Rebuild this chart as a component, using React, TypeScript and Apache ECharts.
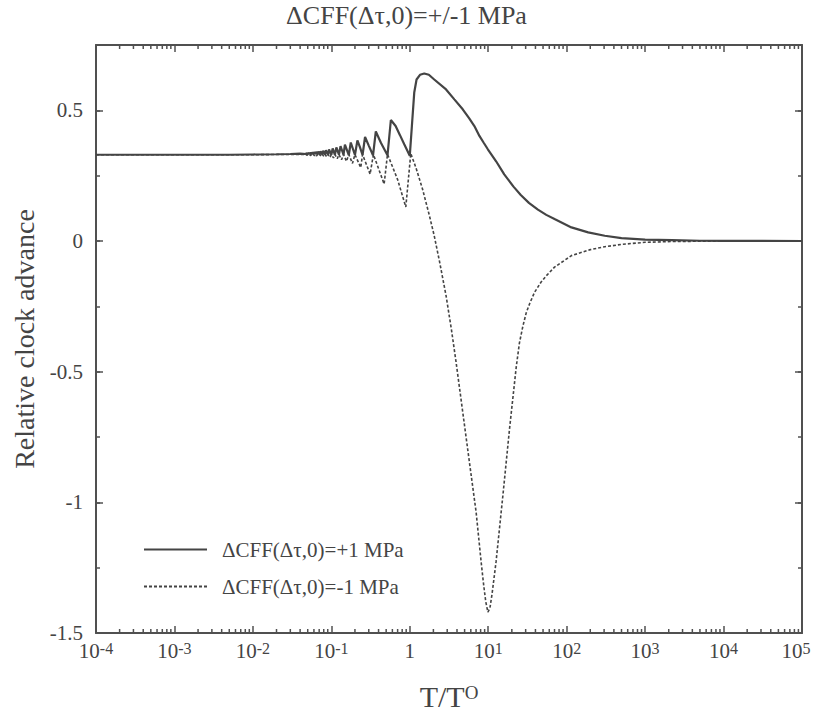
import React, { useEffect, useRef } from 'react';
import * as echarts from 'echarts';

const TITLE = 'ΔCFF(Δτ,0)=+/-1 MPa';
const X_NAME = 'T/T';
const X_NAME_SUP = 'O';
const Y_NAME = 'Relative clock advance';
const SERIES_NAMES = ['ΔCFF(Δτ,0)=+1 MPa', 'ΔCFF(Δτ,0)=-1 MPa'];

const X_MIN = 1e-4;
const X_MAX = 1e5;
const Y_MIN = -1.5;
const Y_MAX = 0.75;
const X_DECADES = [-4, -3, -2, -1, 0, 1, 2, 3, 4, 5];
const Y_TICKS = [-1.5, -1, -0.5, 0, 0.5];

// +1 MPa (solid) : [T/T0, relative clock advance]
const positiveFlat: [number, number][] = [
  [1e-4, 0.33], [1e-3, 0.33], [0.005, 0.33], [0.01, 0.331], [0.02, 0.332], [0.03, 0.333], [0.04, 0.334],
];
const positiveOscillation: [number, number][] = [
  [0.0476, 0.333], [0.0483, 0.336],
  [0.05, 0.333], [0.0508, 0.337],
  [0.0526, 0.333], [0.0535, 0.338],
  [0.0556, 0.333], [0.0566, 0.339],
  [0.0588, 0.333], [0.0599, 0.34],
  [0.0625, 0.332], [0.0637, 0.341],
  [0.0667, 0.332], [0.068, 0.342],
  [0.0714, 0.332], [0.0729, 0.343],
  [0.0769, 0.331], [0.0786, 0.345],
  [0.0833, 0.331], [0.0853, 0.347],
  [0.0909, 0.331], [0.0934, 0.35],
  [0.1, 0.33], [0.104, 0.354],
  [0.111, 0.33], [0.116, 0.358],
  [0.125, 0.33], [0.131, 0.363],
  [0.143, 0.33], [0.149, 0.369],
  [0.167, 0.329], [0.177, 0.377],
  [0.2, 0.329], [0.215, 0.385], [0.232, 0.358],
  [0.25, 0.329], [0.269, 0.398], [0.3, 0.365],
  [0.34, 0.328], [0.369, 0.419], [0.43, 0.375],
  [0.52, 0.328], [0.574, 0.463], [0.66, 0.44], [0.75, 0.405], [0.85, 0.37],
];
const positiveMain: [number, number][] = [
  [1.0, 0.326], [1.064, 0.44], [1.14, 0.568], [1.22, 0.618], [1.35, 0.636], [1.53, 0.641],
  [1.75, 0.636], [2.05, 0.618], [2.9, 0.58], [3.7, 0.542], [4.73, 0.504], [5.7, 0.47], [6.66, 0.44],
  [7.72, 0.402], [8.8, 0.375], [9.89, 0.351], [12.6, 0.305], [16, 0.255], [21, 0.208], [26, 0.176],
  [33, 0.146], [43, 0.12], [55, 0.1], [70, 0.084], [115, 0.052], [188, 0.033], [306, 0.02],
  [500, 0.011], [1000, 0.005], [2200, 0.003], [5000, 0.001], [1e4, 0.0005], [1e5, 0],
];

// -1 MPa (dashed)
const negativeFlat: [number, number][] = [
  [1e-4, 0.33], [1e-3, 0.33], [0.005, 0.33], [0.01, 0.33], [0.02, 0.331], [0.03, 0.331], [0.04, 0.331],
];
const negativeOscillation: [number, number][] = [
  [0.0476, 0.331], [0.0492, 0.328],
  [0.05, 0.331], [0.0517, 0.328],
  [0.0526, 0.331], [0.0545, 0.327],
  [0.0556, 0.331], [0.0576, 0.327],
  [0.0588, 0.331], [0.0611, 0.326],
  [0.0625, 0.331], [0.065, 0.326],
  [0.0667, 0.331], [0.0695, 0.325],
  [0.0714, 0.331], [0.0746, 0.324],
  [0.0769, 0.331], [0.0806, 0.323],
  [0.0833, 0.331], [0.0876, 0.322],
  [0.0909, 0.331], [0.096, 0.32],
  [0.1, 0.331], [0.1065, 0.318],
  [0.111, 0.331], [0.119, 0.315],
  [0.125, 0.331], [0.135, 0.311],
  [0.143, 0.331], [0.156, 0.305],
  [0.167, 0.331], [0.186, 0.297],
  [0.2, 0.331], [0.237, 0.281],
  [0.25, 0.331], [0.312, 0.256],
  [0.344, 0.331], [0.471, 0.218],
  [0.52, 0.332], [0.7, 0.235], [0.89, 0.13],
];
const negativeMain: [number, number][] = [
  [1.03, 0.335], [1.2, 0.28], [1.45, 0.2], [1.77, 0.1], [2.05, 0.02], [2.4, -0.08],
  [2.9, -0.209], [3.4, -0.34], [3.89, -0.463], [4.73, -0.654], [5.75, -0.845], [7.0, -1.036],
  [8.11, -1.226], [8.7, -1.31], [9.3, -1.38], [9.9, -1.42], [10.5, -1.405], [11.2, -1.35],
  [12.6, -1.226], [15.4, -0.972], [18.7, -0.718], [22.8, -0.48], [25, -0.39], [27.7, -0.325],
  [30.5, -0.275], [33.7, -0.24], [39, -0.196], [47, -0.158], [55, -0.133], [70, -0.1],
  [115, -0.056], [200, -0.033], [306, -0.022], [500, -0.013], [1000, -0.005], [2200, -0.002],
  [1e4, 0], [1e5, 0],
];

const MINOR_MULTIPLIERS = [2, 3, 4, 5, 6, 7, 8, 9];

const FONT = 'serif';
const INK = '#444';
const AXIS_COLOR = '#505050';

export default function App() {
  const ref = useRef<HTMLDivElement>(null);

  useEffect(() => {
    if (!ref.current) return;
    const chart = echarts.init(ref.current, null, { renderer: 'svg' });

    const minorTicks: [number, number][] = [];
    X_DECADES.slice(0, -1).forEach((e) => {
      MINOR_MULTIPLIERS.forEach((m) => minorTicks.push([m * Math.pow(10, e), 0]));
    });

    const xLabelRich = {
      b: { fontSize: 21, fontFamily: FONT, color: INK, lineHeight: 21, padding: [10, 0, 0, 0], verticalAlign: 'bottom' },
      s: { fontSize: 16, fontFamily: FONT, color: INK, lineHeight: 16, verticalAlign: 'top' },
      e: { fontSize: 16, fontFamily: FONT, color: INK, lineHeight: 16, verticalAlign: 'top', padding: [0, 12, 0, 0] },
    };

    const baseX = {
      type: 'log',
      logBase: 10,
      min: X_MIN,
      max: X_MAX,
      interval: 1,
      splitLine: { show: false },
      axisLine: { show: true, onZero: false, lineStyle: { color: AXIS_COLOR, width: 2 } },
      axisTick: { show: true, inside: true, length: 7, lineStyle: { color: AXIS_COLOR, width: 1.5 } },
    };

    const baseY = {
      type: 'value',
      min: Y_MIN,
      max: Y_MAX,
      splitLine: { show: false },
    };

    const option: any = {
      animation: false,
      textStyle: { fontFamily: FONT },
      title: {
        text: TITLE,
        left: 'center',
        top: 2,
        padding: 0,
        textStyle: { fontFamily: FONT, fontSize: 26, fontWeight: 'normal', color: INK },
      },
      grid: { left: 96, right: 11, top: 45, bottom: 80, containLabel: false, outerBoundsMode: 'none' },
      legend: {
        data: SERIES_NAMES,
        orient: 'vertical',
        left: 138,
        top: 534,
        itemWidth: 63,
        itemHeight: 14,
        itemGap: 16,
        itemStyle: { opacity: 0 },
        textStyle: { fontFamily: FONT, fontSize: 21, color: INK, padding: [0, 0, 0, 10] },
      },
      xAxis: [
        {
          ...baseX,
          position: 'bottom',
          axisLabel: {
            show: true,
            margin: 7,
            showMinLabel: true,
            showMaxLabel: true,
            fontFamily: FONT,
            formatter: (v: number) => {
              const e = Math.round(Math.log10(v));
              if (e === 0) return '{b|1}';
              if (e === X_DECADES[X_DECADES.length - 1]) return '{b|10}{e|' + e + '}';
              return '{b|10}{s|' + e + '}';
            },
            rich: xLabelRich,
          },
          name: X_NAME + '{s|' + X_NAME_SUP + '}',
          nameLocation: 'middle',
          nameGap: 50,
          nameTextStyle: {
            fontFamily: FONT,
            fontSize: 30,
            lineHeight: 26,
            color: INK,
            rich: {
              s: { fontFamily: FONT, fontSize: 19, color: INK, verticalAlign: 'top', lineHeight: 19 },
            },
          },
        },
        {
          ...baseX,
          position: 'top',
          axisLabel: { show: false },
        },
      ],
      yAxis: [
        {
          ...baseY,
          position: 'left',
          interval: 0.5,
          axisLine: { show: true, onZero: false, lineStyle: { color: AXIS_COLOR, width: 2 } },
          axisTick: { show: true, inside: true, length: 7, lineStyle: { color: AXIS_COLOR, width: 1.5 } },
          axisLabel: {
            show: true,
            margin: 13,
            fontFamily: FONT,
            fontSize: 21,
            color: INK,
            formatter: (v: number) => (Y_TICKS.some((t) => Math.abs(t - v) < 1e-9) ? String(v) : ''),
          },
          name: Y_NAME,
          nameLocation: 'middle',
          nameRotate: 90,
          nameGap: 56,
          nameTextStyle: { fontFamily: FONT, fontSize: 28, color: INK },
        },
        {
          ...baseY,
          position: 'left',
          interval: 0.25,
          axisLine: { show: false, onZero: false },
          axisTick: { show: true, inside: true, length: 4, lineStyle: { color: AXIS_COLOR, width: 1.5 } },
          axisLabel: { show: false },
        },
        {
          ...baseY,
          position: 'right',
          interval: 0.5,
          axisLine: { show: true, onZero: false, lineStyle: { color: AXIS_COLOR, width: 2 } },
          axisTick: { show: true, inside: true, length: 7, lineStyle: { color: AXIS_COLOR, width: 1.5 } },
          axisLabel: { show: false },
        },
        {
          ...baseY,
          position: 'right',
          interval: 0.25,
          axisLine: { show: false, onZero: false },
          axisTick: { show: true, inside: true, length: 4, lineStyle: { color: AXIS_COLOR, width: 1.5 } },
          axisLabel: { show: false },
        },
      ],
      series: [
        {
          name: SERIES_NAMES[1],
          type: 'line',
          xAxisIndex: 0,
          yAxisIndex: 0,
          symbol: 'none',
          z: 2,
          lineStyle: { color: INK, width: 1.6, type: [3, 2] },
          itemStyle: { color: INK },
          data: [...negativeFlat, ...negativeOscillation, ...negativeMain],
        },
        {
          name: SERIES_NAMES[0],
          type: 'line',
          xAxisIndex: 0,
          yAxisIndex: 0,
          symbol: 'none',
          z: 3,
          lineStyle: { color: INK, width: 2.2 },
          itemStyle: { color: INK },
          data: [...positiveFlat, ...positiveOscillation, ...positiveMain],
        },
        {
          name: 'minorTicks',
          type: 'custom',
          xAxisIndex: 0,
          yAxisIndex: 0,
          silent: true,
          clip: false,
          encode: { x: 0, y: 1 },
          data: minorTicks,
          renderItem: (_params: any, api: any) => {
            const v = api.value(0);
            const b = api.coord([v, Y_MIN]);
            const t = api.coord([v, Y_MAX]);
            const style = { stroke: AXIS_COLOR, lineWidth: 1.5 };
            return {
              type: 'group',
              children: [
                { type: 'line', shape: { x1: b[0], y1: b[1], x2: b[0], y2: b[1] - 4 }, style },
                { type: 'line', shape: { x1: t[0], y1: t[1], x2: t[0], y2: t[1] + 4 }, style },
              ],
            };
          },
        },
      ],
    };

    chart.setOption(option);
    return () => chart.dispose();
  }, []);

  return (
    <>
      <style>{"#chart-root svg text, #chart-root svg tspan { font-family: 'Liberation Serif', 'Times New Roman', serif !important; }"}</style>
      <div
        id="chart-root"
        ref={ref}
        style={{ position: 'fixed', left: 0, top: 0, width: 813, height: 713, background: '#fff' }}
      />
    </>
  );
}
